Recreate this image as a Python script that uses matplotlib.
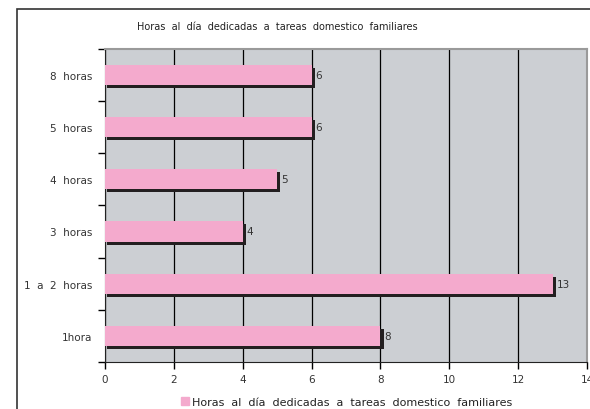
import matplotlib
matplotlib.use("Agg")
import matplotlib.pyplot as plt
import matplotlib.patches as mpatches
import numpy as np

# data
categorias = ["1hora", "1  a  2  horas", "3  horas", "4  horas", "5  horas", "8  horas"]
valores = [8, 13, 4, 5, 6, 6]
titulo = "Horas  al  día  dedicadas  a  tareas  domestico  familiares"

C_BAR = "#F4AACD"
C_SHADOW = "#231F20"
C_PLOT = "#CCCFD3"

fig = plt.figure(figsize=(5.9, 4.1), dpi=100)
ax = fig.add_axes([0.178, 0.1146, 0.817, 0.764])

# outer chart frame (clipped at right/bottom like the reference)
fig.patches.append(mpatches.Rectangle((17 / 590, -0.05), 1.1, (410 - 10) / 410 + 0.05,
                                      transform=fig.transFigure, fill=False,
                                      edgecolor="#333333", linewidth=1.2, zorder=0))

y = np.arange(len(categorias))
h = 0.39
# shadow then bar
ax.barh(y - 0.058, np.array(valores) + 0.03, height=h, left=0.06, color=C_SHADOW, zorder=2)
ax.barh(y, valores, height=h, color=C_BAR, zorder=3)

for yi, v in zip(y, valores):
    ax.text(v + 0.12, yi, str(v), va="center", ha="left", fontsize=7.5, color="#333333", zorder=4)

ax.set_facecolor(C_PLOT)
ax.set_xlim(0, 14)
ax.set_ylim(-0.5, len(categorias) - 0.5)
ax.set_xticks(range(0, 15, 2))
ax.xaxis.grid(True, color="black", linewidth=0.9, zorder=1)
ax.set_axisbelow(True)

ax.set_yticks(y)
ax.set_yticklabels(categorias, fontsize=7.5, color="#333333")
ax.set_yticks(np.arange(-0.5, len(categorias), 1), minor=True)
ax.tick_params(axis="y", which="major", length=0, pad=9)
ax.tick_params(axis="y", which="minor", length=5, width=1, direction="out")
ax.tick_params(axis="x", length=5, width=1, direction="out", labelsize=7.5, labelcolor="#333333")

ax.spines["left"].set_color("#222222")
ax.spines["bottom"].set_color("#222222")
ax.spines["top"].set_color("#9A9A9A")
ax.spines["right"].set_color("#9A9A9A")
ax.spines["top"].set_linewidth(1.5)
ax.spines["right"].set_linewidth(1.5)

fig.text(0.47, 0.935, titulo, ha="center", va="center", fontsize=7, color="#222222")

handle = mpatches.Patch(color=C_BAR, label=titulo)
fig.legend(handles=[handle], loc="center", bbox_to_anchor=(0.588, 0.017), frameon=False,
           fontsize=8, handlelength=0.7, handleheight=0.7, handletextpad=0.3,
           labelcolor="#222222")

fig.savefig("out.png", dpi=100)
